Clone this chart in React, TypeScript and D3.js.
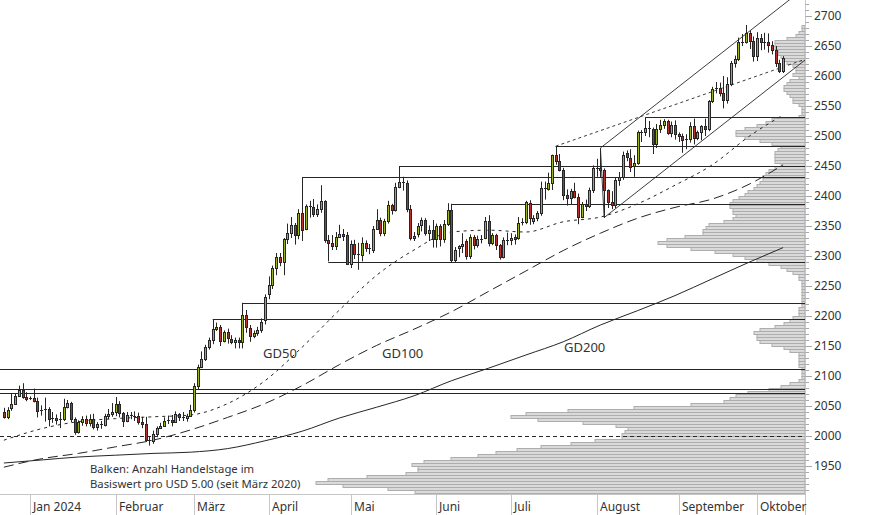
import * as React from 'react';
import * as d3 from 'd3';

const dimensions = { width: 874, height: 515 };
const frame = { right: 805, bottom: 494 };

// date, open, high, low, close (USD)
const candles: [string, number, number, number, number][] = [
  ['2023-12-20', 2040, 2047, 2029, 2032],
  ['2023-12-21', 2032, 2048, 2028, 2044],
  ['2023-12-22', 2047, 2071, 2042, 2053],
  ['2023-12-26', 2053, 2070, 2052, 2067],
  ['2023-12-27', 2067, 2084, 2065, 2077],
  ['2023-12-28', 2077, 2088, 2062, 2065],
  ['2023-12-29', 2065, 2073, 2058, 2062],
  ['2024-01-01', 2062, 2066, 2060, 2063],
  ['2024-01-02', 2063, 2079, 2056, 2059],
  ['2024-01-03', 2059, 2064, 2031, 2042],
  ['2024-01-04', 2042, 2051, 2034, 2044],
  ['2024-01-05', 2044, 2064, 2024, 2045],
  ['2024-01-08', 2045, 2048, 2016, 2028],
  ['2024-01-09', 2028, 2040, 2022, 2030],
  ['2024-01-10', 2030, 2036, 2019, 2026],
  ['2024-01-11', 2026, 2040, 2013, 2029],
  ['2024-01-12', 2029, 2062, 2025, 2049],
  ['2024-01-15', 2049, 2060, 2046, 2055],
  ['2024-01-16', 2055, 2057, 2023, 2029],
  ['2024-01-17', 2029, 2031, 2002, 2006],
  ['2024-01-18', 2006, 2026, 2004, 2023],
  ['2024-01-19', 2023, 2033, 2017, 2029],
  ['2024-01-22', 2029, 2034, 2016, 2021],
  ['2024-01-23', 2021, 2036, 2016, 2029],
  ['2024-01-24', 2029, 2037, 2011, 2015],
  ['2024-01-25', 2015, 2023, 2009, 2020],
  ['2024-01-26', 2020, 2025, 2012, 2018],
  ['2024-01-29', 2018, 2037, 2016, 2033],
  ['2024-01-30', 2033, 2045, 2028, 2037],
  ['2024-01-31', 2037, 2055, 2032, 2040],
  ['2024-02-01', 2040, 2065, 2033, 2054],
  ['2024-02-02', 2054, 2058, 2031, 2039],
  ['2024-02-05', 2039, 2040, 2015, 2025],
  ['2024-02-06', 2025, 2040, 2023, 2035],
  ['2024-02-07', 2035, 2040, 2028, 2034],
  ['2024-02-08', 2034, 2041, 2025, 2033],
  ['2024-02-09', 2033, 2039, 2019, 2024],
  ['2024-02-12', 2024, 2032, 2013, 2020],
  ['2024-02-13', 2020, 2032, 1990, 1993],
  ['2024-02-14', 1993, 1999, 1984, 1992],
  ['2024-02-15', 1992, 2009, 1987, 2004],
  ['2024-02-16', 2004, 2016, 1998, 2013],
  ['2024-02-19', 2013, 2022, 2012, 2017],
  ['2024-02-20', 2017, 2031, 2016, 2025],
  ['2024-02-21', 2025, 2034, 2020, 2026],
  ['2024-02-22', 2026, 2035, 2016, 2024],
  ['2024-02-23', 2024, 2041, 2022, 2036],
  ['2024-02-26', 2036, 2038, 2025, 2031],
  ['2024-02-27', 2031, 2040, 2025, 2030],
  ['2024-02-28', 2030, 2037, 2024, 2034],
  ['2024-02-29', 2034, 2052, 2032, 2044],
  ['2024-03-01', 2044, 2088, 2039, 2083],
  ['2024-03-04', 2083, 2119, 2077, 2115],
  ['2024-03-05', 2115, 2141, 2113, 2128],
  ['2024-03-06', 2128, 2152, 2125, 2148],
  ['2024-03-07', 2148, 2164, 2144, 2160],
  ['2024-03-08', 2160, 2195, 2153, 2179],
  ['2024-03-11', 2179, 2189, 2175, 2182],
  ['2024-03-12', 2182, 2185, 2150, 2158],
  ['2024-03-13', 2158, 2176, 2156, 2174],
  ['2024-03-14', 2174, 2179, 2154, 2163],
  ['2024-03-15', 2162, 2168, 2153, 2156],
  ['2024-03-18', 2156, 2164, 2146, 2160],
  ['2024-03-19', 2160, 2164, 2146, 2157],
  ['2024-03-20', 2157, 2222, 2146, 2202],
  ['2024-03-21', 2202, 2210, 2172, 2182],
  ['2024-03-22', 2180, 2185, 2157, 2166],
  ['2024-03-25', 2166, 2176, 2163, 2171],
  ['2024-03-26', 2171, 2182, 2167, 2177],
  ['2024-03-27', 2177, 2196, 2172, 2190],
  ['2024-03-28', 2193, 2236, 2186, 2232],
  ['2024-04-01', 2237, 2266, 2228, 2251],
  ['2024-04-02', 2251, 2284, 2245, 2280],
  ['2024-04-03', 2280, 2305, 2268, 2298],
  ['2024-04-04', 2298, 2305, 2283, 2290],
  ['2024-04-05', 2290, 2330, 2268, 2328],
  ['2024-04-08', 2328, 2354, 2320, 2338],
  ['2024-04-09', 2338, 2365, 2330, 2352],
  ['2024-04-10', 2352, 2355, 2319, 2335],
  ['2024-04-11', 2335, 2378, 2328, 2372],
  ['2024-04-12', 2372, 2431, 2325, 2344],
  ['2024-04-15', 2345, 2386, 2343, 2383],
  ['2024-04-16', 2383, 2392, 2364, 2381],
  ['2024-04-17', 2382, 2395, 2365, 2370],
  ['2024-04-18', 2370, 2386, 2365, 2379],
  ['2024-04-19', 2379, 2418, 2372, 2391],
  ['2024-04-22', 2391, 2393, 2322, 2327],
  ['2024-04-23', 2327, 2335, 2291, 2322],
  ['2024-04-24', 2322, 2335, 2310, 2316],
  ['2024-04-25', 2316, 2340, 2310, 2332],
  ['2024-04-26', 2332, 2352, 2330, 2336],
  ['2024-04-29', 2336, 2345, 2325, 2334],
  ['2024-04-30', 2335, 2340, 2285, 2286],
  ['2024-05-01', 2286, 2326, 2280, 2320],
  ['2024-05-02', 2320, 2327, 2295, 2304],
  ['2024-05-03', 2304, 2322, 2277, 2302],
  ['2024-05-06', 2302, 2331, 2291, 2322],
  ['2024-05-07', 2322, 2326, 2307, 2314],
  ['2024-05-08', 2314, 2320, 2303, 2312],
  ['2024-05-09', 2310, 2350, 2305, 2345],
  ['2024-05-10', 2345, 2378, 2344, 2360],
  ['2024-05-13', 2360, 2364, 2333, 2338],
  ['2024-05-14', 2338, 2362, 2333, 2358],
  ['2024-05-15', 2358, 2392, 2354, 2385],
  ['2024-05-16', 2385, 2387, 2369, 2377],
  ['2024-05-17', 2377, 2422, 2374, 2415],
  ['2024-05-20', 2415, 2450, 2413, 2424],
  ['2024-05-21', 2424, 2432, 2409, 2421],
  ['2024-05-22', 2421, 2426, 2373, 2379],
  ['2024-05-23', 2379, 2385, 2326, 2330],
  ['2024-05-24', 2330, 2340, 2325, 2333],
  ['2024-05-27', 2337, 2355, 2331, 2350],
  ['2024-05-28', 2352, 2364, 2341, 2360],
  ['2024-05-29', 2360, 2363, 2334, 2338],
  ['2024-05-30', 2338, 2351, 2325, 2343],
  ['2024-05-31', 2343, 2360, 2314, 2328],
  ['2024-06-03', 2328, 2354, 2314, 2350],
  ['2024-06-04', 2350, 2353, 2316, 2328],
  ['2024-06-05', 2328, 2360, 2322, 2354],
  ['2024-06-06', 2354, 2388, 2350, 2376],
  ['2024-06-07', 2376, 2387, 2289, 2294],
  ['2024-06-10', 2294, 2315, 2290, 2310],
  ['2024-06-11', 2313, 2318, 2298, 2317],
  ['2024-06-12', 2317, 2338, 2305, 2320],
  ['2024-06-13', 2325, 2328, 2294, 2300],
  ['2024-06-14', 2300, 2336, 2295, 2332],
  ['2024-06-17', 2332, 2335, 2311, 2319],
  ['2024-06-18', 2319, 2334, 2314, 2329],
  ['2024-06-19', 2329, 2335, 2321, 2328],
  ['2024-06-20', 2330, 2365, 2328, 2359],
  ['2024-06-21', 2359, 2368, 2316, 2322],
  ['2024-06-24', 2322, 2338, 2318, 2335],
  ['2024-06-25', 2335, 2337, 2310, 2318],
  ['2024-06-26', 2318, 2320, 2294, 2299],
  ['2024-06-27', 2299, 2331, 2296, 2327],
  ['2024-06-28', 2327, 2339, 2318, 2326],
  ['2024-07-01', 2327, 2338, 2318, 2330],
  ['2024-07-02', 2332, 2336, 2319, 2328],
  ['2024-07-03', 2330, 2365, 2327, 2355],
  ['2024-07-04', 2355, 2363, 2351, 2356],
  ['2024-07-05', 2357, 2392, 2353, 2390],
  ['2024-07-08', 2388, 2393, 2352, 2363],
  ['2024-07-09', 2358, 2368, 2353, 2364],
  ['2024-07-10', 2364, 2375, 2358, 2371],
  ['2024-07-11', 2371, 2424, 2367, 2414],
  ['2024-07-12', 2414, 2424, 2394, 2411],
  ['2024-07-15', 2412, 2439, 2409, 2422],
  ['2024-07-16', 2422, 2469, 2410, 2468],
  ['2024-07-17', 2468, 2483, 2452, 2459],
  ['2024-07-18', 2459, 2470, 2441, 2444],
  ['2024-07-19', 2444, 2447, 2393, 2401],
  ['2024-07-22', 2401, 2411, 2384, 2396],
  ['2024-07-23', 2396, 2412, 2386, 2409],
  ['2024-07-24', 2409, 2422, 2396, 2398],
  ['2024-07-25', 2398, 2404, 2353, 2365],
  ['2024-07-26', 2365, 2390, 2363, 2386],
  ['2024-07-29', 2386, 2394, 2375, 2384],
  ['2024-07-30', 2384, 2414, 2380, 2410],
  ['2024-07-31', 2410, 2451, 2405, 2447],
  ['2024-08-01', 2447, 2462, 2432, 2446],
  ['2024-08-02', 2446, 2480, 2430, 2443],
  ['2024-08-05', 2443, 2446, 2364, 2410],
  ['2024-08-06', 2410, 2411, 2380, 2390],
  ['2024-08-07', 2390, 2408, 2378, 2385],
  ['2024-08-08', 2385, 2431, 2380, 2427],
  ['2024-08-09', 2427, 2440, 2417, 2431],
  ['2024-08-12', 2431, 2474, 2427, 2468],
  ['2024-08-13', 2472, 2476, 2458, 2465],
  ['2024-08-14', 2464, 2478, 2440, 2448],
  ['2024-08-15', 2450, 2468, 2432, 2455],
  ['2024-08-16', 2455, 2509, 2452, 2507],
  ['2024-08-19', 2507, 2510, 2490, 2506],
  ['2024-08-20', 2506, 2531, 2500, 2513],
  ['2024-08-21', 2513, 2525, 2498, 2512],
  ['2024-08-22', 2512, 2514, 2470, 2486],
  ['2024-08-23', 2486, 2520, 2480, 2512],
  ['2024-08-26', 2512, 2527, 2505, 2518],
  ['2024-08-27', 2518, 2528, 2512, 2525],
  ['2024-08-28', 2525, 2527, 2502, 2505],
  ['2024-08-29', 2505, 2524, 2498, 2519],
  ['2024-08-30', 2519, 2526, 2494, 2503],
  ['2024-09-02', 2503, 2506, 2490, 2500],
  ['2024-09-03', 2500, 2504, 2472, 2493],
  ['2024-09-04', 2493, 2503, 2478, 2495],
  ['2024-09-05', 2495, 2523, 2489, 2516],
  ['2024-09-06', 2516, 2529, 2486, 2497],
  ['2024-09-09', 2497, 2509, 2493, 2506],
  ['2024-09-10', 2506, 2518, 2493, 2516],
  ['2024-09-11', 2516, 2529, 2500, 2512],
  ['2024-09-12', 2512, 2560, 2508, 2558],
  ['2024-09-13', 2558, 2582, 2555, 2578],
  ['2024-09-16', 2578, 2590, 2571, 2580],
  ['2024-09-17', 2580, 2589, 2566, 2571],
  ['2024-09-18', 2571, 2600, 2546, 2560],
  ['2024-09-19', 2560, 2598, 2554, 2586],
  ['2024-09-20', 2586, 2625, 2583, 2621],
  ['2024-09-23', 2621, 2634, 2614, 2628],
  ['2024-09-24', 2628, 2664, 2625, 2657],
  ['2024-09-25', 2657, 2670, 2650, 2656],
  ['2024-09-26', 2656, 2685, 2654, 2672],
  ['2024-09-27', 2672, 2676, 2645, 2658],
  ['2024-09-30', 2658, 2666, 2624, 2634],
  ['2024-10-01', 2634, 2673, 2625, 2663],
  ['2024-10-02', 2663, 2670, 2643, 2657],
  ['2024-10-03', 2657, 2672, 2644, 2656],
  ['2024-10-04', 2656, 2671, 2639, 2652],
  ['2024-10-07', 2652, 2658, 2636, 2643],
  ['2024-10-08', 2643, 2650, 2615, 2622],
  ['2024-10-09', 2622, 2627, 2605, 2609],
  ['2024-10-10', 2609, 2633, 2605, 2630],
];

const monthStarts: [string, string][] = [
  ['2024-01-01', 'Jan 2024'],
  ['2024-02-01', 'Februar'],
  ['2024-03-01', 'März'],
  ['2024-04-01', 'April'],
  ['2024-05-01', 'Mai'],
  ['2024-06-03', 'Juni'],
  ['2024-07-01', 'Juli'],
  ['2024-08-01', 'August'],
  ['2024-09-02', 'September'],
  ['2024-10-01', 'Oktober'],
];

// horizontal resistance / support lines: start date (null = left edge), price
const levels: [string | null, number][] = [
  ['2024-08-20', 2531],
  ['2024-07-17', 2483],
  ['2024-05-20', 2450],
  ['2024-04-12', 2431],
  ['2024-06-07', 2387],
  ['2024-04-23', 2290],
  ['2024-03-20', 2222],
  ['2024-03-08', 2195],
  [null, 2111],
  [null, 2079],
  [null, 2071],
];
const roundLevel = 2000;

// trend lines: two anchors (date, price), extended to the right edge
const trendLines: { a: [string, number]; b: [string, number]; extend: boolean; dash?: string }[] = [
  { a: ['2024-08-02', 2480], b: ['2024-09-26', 2670], extend: true },
  { a: ['2024-08-05', 2364], b: ['2024-09-06', 2481], extend: true },
  { a: ['2024-08-02', 2480], b: ['2024-08-05', 2364], extend: false },
  { a: ['2024-07-17', 2483], b: ['2024-08-20', 2535], extend: true, dash: '3,3' },
];

// moving averages
const maDates = [
  '2023-12-20', '2024-01-04', '2024-01-18', '2024-02-01', '2024-02-15', '2024-02-29',
  '2024-03-14', '2024-03-28', '2024-04-12', '2024-04-26', '2024-05-10', '2024-05-24',
  '2024-06-07', '2024-06-21', '2024-07-05', '2024-07-19', '2024-08-02', '2024-08-16',
  '2024-08-30', '2024-09-13', '2024-09-27', '2024-10-10',
];
const gd50 = [1993, 2012, 2024, 2029, 2032, 2035, 2054, 2092, 2148, 2210, 2268, 2310,
  2340, 2343, 2340, 2357, 2365, 2387, 2418, 2452, 2500, 2535];
const gd100 = [1948, 1962, 1971, 1982, 1993, 2010, 2031, 2054, 2084, 2119, 2151, 2178,
  2207, 2241, 2275, 2309, 2338, 2363, 2381, 2395, 2420, 2452];
const gd200 = [1955, 1960, 1965, 1968, 1971, 1973, 1979, 1992, 2008, 2030, 2048, 2067,
  2092, 2113, 2135, 2157, 2185, 2209, 2234, 2262, 2290, 2314];

const maLabels: [string, number, number][] = [
  ['GD50', 263, 358],
  ['GD100', 382, 358],
  ['GD200', 564, 352],
];

// trading days per USD 5 price band since March 2020, bands from 1900 upwards
const profileStart = 1900;
const profileStep = 5;
const profileDays = [
  128, 130, 139, 154, 163, 159, 146, 133, 129, 129, 131, 127, 118, 109, 103, 96, 88, 78, 70, 61,
  61, 60, 59, 63, 74, 89, 98, 93, 79, 57, 38, 27, 25, 23, 19, 12, 8, 5, 2, 1,
  1, 1, 1, 2, 2, 2, 2, 2, 5, 7, 11, 15, 16, 16, 17, 15, 10, 7, 5, 4,
  2, 2, 2, 1, 1, 1, 1, 1, 1, 1, 1, 1, 2, 2, 4, 6, 8, 12, 16, 20,
  24, 30, 38, 46, 49, 46, 40, 34, 34, 33, 32, 27, 24, 23, 24, 24, 25, 25, 24, 22,
  20, 19, 17, 16, 15, 14, 14, 13, 12, 10, 8, 10, 10, 10, 10, 9, 8, 11, 15, 20,
  23, 23, 20, 16, 13, 11, 2, 1, 1, 1, 2, 4, 4, 5, 6, 7, 7, 6, 5, 2,
  4, 3, 3, 4, 6, 7, 8, 9, 9, 10, 10, 10, 6, 3, 2, 1, 1,
];

const priceLabels = d3.range(1950, 2701, 50);
const priceMinor = d3.range(1910, 2721, 10);

const green = '#9bb41d';
const red = '#b4322a';
const ink = '#262626';
const grid = '#c6c6c6';
const fontFamily = '"Noto Sans", "Open Sans", sans-serif';

const App: React.FC = () => {
  const dates = candles.map((d) => d[0]);
  const x = d3.scaleBand<string>().domain(dates).range([2, 785]);
  const cx = (d: string) => (x(d) ?? 0) + x.bandwidth() / 2;
  const y = d3.scaleLinear().domain([2000, 2700]).range([436, 16]);
  const days = d3.scaleLinear().domain([0, 100]).range([0, 300]);

  const maLine = d3
    .line<number>()
    .x((_, i) => cx(maDates[i]))
    .y((v) => y(v))
    .curve(d3.curveMonotoneX);

  const trendPath = (t: (typeof trendLines)[number]) => {
    const x1 = cx(t.a[0]);
    const y1 = y(t.a[1]);
    const x2 = cx(t.b[0]);
    const y2 = y(t.b[1]);
    if (!t.extend) return `M${x1},${y1}L${x2},${y2}`;
    const slope = (y2 - y1) / (x2 - x1);
    return `M${x1},${y1}L${frame.right},${y1 + slope * (frame.right - x1)}`;
  };

  return (
    <svg
      width={dimensions.width}
      height={dimensions.height}
      viewBox={`0 0 ${dimensions.width} ${dimensions.height}`}
      style={{ position: 'absolute', left: 0, top: 0, background: '#fff' }}
      fontFamily={fontFamily}
    >
      <defs>
        <clipPath id="plot">
          <rect x={0} y={0} width={frame.right} height={frame.bottom} />
        </clipPath>
      </defs>

      <g clipPath="url(#plot)">
        {/* volume-at-price profile */}
        {profileDays.map((n, i) => {
          const lo = profileStart + i * profileStep;
          const w = days(n);
          return (
            <rect
              key={lo}
              x={frame.right - w}
              y={y(lo + profileStep) + 0.5}
              width={w}
              height={y(lo) - y(lo + profileStep)}
              fill="#dadada"
              stroke="#adadad"
              strokeWidth={1}
            />
          );
        })}

        {/* horizontal levels */}
        {levels.map(([from, p]) => {
          const yy = Math.round(y(p)) + 0.5;
          return (
            <line
              key={p}
              x1={from ? cx(from) : 0}
              x2={frame.right}
              y1={yy}
              y2={yy}
              stroke={ink}
              strokeWidth={1}
            />
          );
        })}
        <line
          x1={0}
          x2={frame.right}
          y1={Math.round(y(roundLevel)) + 0.5}
          y2={Math.round(y(roundLevel)) + 0.5}
          stroke={ink}
          strokeDasharray="4,3"
        />

        {/* moving averages */}
        <path d={maLine(gd200) ?? ''} fill="none" stroke={ink} strokeWidth={1} />
        <path d={maLine(gd100) ?? ''} fill="none" stroke={ink} strokeWidth={1} strokeDasharray="10,5" />
        <path d={maLine(gd50) ?? ''} fill="none" stroke={ink} strokeWidth={1} strokeDasharray="3,4" />

        {/* trend channel */}
        {trendLines.map((t, i) => (
          <path
            key={i}
            d={trendPath(t)}
            fill="none"
            stroke={ink}
            strokeWidth={0.9}
            strokeDasharray={t.dash}
          />
        ))}

        {/* candles */}
        {candles.map(([date, o, h, l, c]) => {
          const px = Math.round(cx(date));
          const top = Math.round(y(Math.max(o, c)));
          const bot = Math.round(y(Math.min(o, c)));
          const hgt = bot - top;
          return (
            <g key={date}>
              <line x1={px + 0.5} x2={px + 0.5} y1={y(h)} y2={y(l)} stroke={ink} strokeWidth={1} />
              {hgt < 2 ? (
                <rect x={px - 1} y={top} width={3} height={Math.max(1, hgt)} fill={ink} />
              ) : (
                <rect
                  x={px - 0.5}
                  y={top + 0.5}
                  width={2}
                  height={hgt}
                  fill={c >= o ? green : red}
                  stroke={ink}
                  strokeWidth={1}
                />
              )}
            </g>
          );
        })}
      </g>

      {/* moving average labels */}
      {maLabels.map(([t, lx, ly]) => (
        <text key={t} x={lx} y={ly} fontSize={13} fill="#333">
          {t}
        </text>
      ))}

      {/* legend */}
      <text x={90} y={473} fontSize={11.3} fill="#333">
        Balken: Anzahl Handelstage im
      </text>
      <text x={90} y={488} fontSize={11.3} fill="#333">
        Basiswert pro USD 5.00 (seit März 2020)
      </text>

      {/* y axis */}
      <line x1={frame.right + 0.5} x2={frame.right + 0.5} y1={0} y2={dimensions.height} stroke={grid} />
      {priceMinor.map((p) => {
        const yy = Math.round(y(p)) + 0.5;
        const major = p % 50 === 0;
        return (
          <line
            key={p}
            x1={frame.right + 0.5}
            x2={frame.right + (major ? 7 : 4)}
            y1={yy}
            y2={yy}
            stroke="#a8a8a8"
          />
        );
      })}
      {priceLabels.map((p) => (
        <text key={p} x={814} y={y(p)} dy="0.35em" fontSize={12} fill="#333">
          {p}
        </text>
      ))}

      {/* x axis */}
      <line x1={0} x2={frame.right} y1={frame.bottom + 0.5} y2={frame.bottom + 0.5} stroke={grid} />
      {monthStarts.map(([d, label]) => {
        const mx = Math.round(cx(d)) + 0.5;
        return (
          <g key={d}>
            <line x1={mx} x2={mx} y1={frame.bottom} y2={dimensions.height} stroke={grid} />
            <text x={mx + 2.5} y={511} fontSize={12} fill="#333">
              {label}
            </text>
          </g>
        );
      })}
    </svg>
  );
};

export default App;
